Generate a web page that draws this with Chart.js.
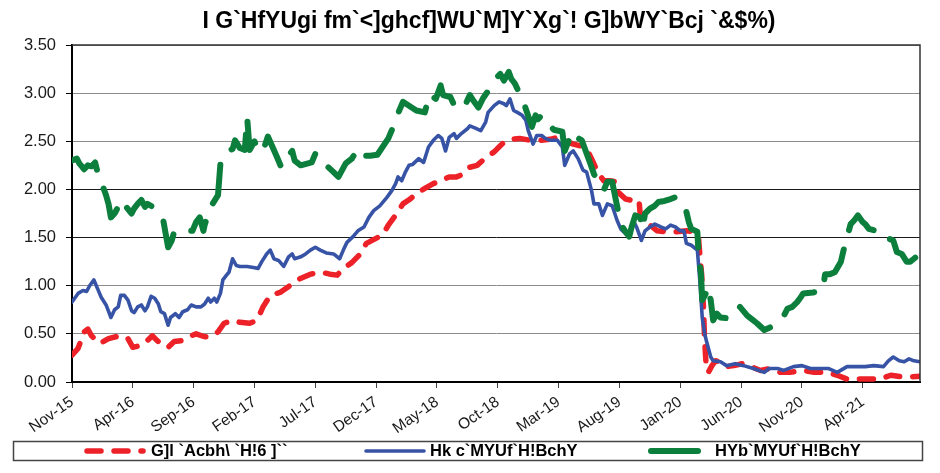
<!DOCTYPE html>
<html>
<head>
<meta charset="utf-8">
<script src="https://cdn.jsdelivr.net/npm/chart.js@4.4.1/dist/chart.umd.min.js"></script>
<style>
  html, body { margin: 0; padding: 0; background: #ffffff; }
  #wrap { width: 940px; height: 473px; position: relative; }
</style>
</head>
<body>
<div id="wrap"><canvas id="yieldChart"></canvas></div>
<script>
// Title and legend text exactly as shown in the source image
const chartTitle = "I G`HfYUgi fm`<]ghcf]WU`M]Y`Xg`! G]bWY`Bcj `&$%)";
const seriesNames = ["G]l `Acbh\\ `H!6 ]``", "Hk c`MYUf`H!BchY", "HYb`MYUf`H!BchY"];

// x axis: months since Nov-15, labelled every 5 months
const tickLabels = ["Nov-15", "Apr-16", "Sep-16", "Feb-17", "Jul-17", "Dec-17", "May-18",
                    "Oct-18", "Mar-19", "Aug-19", "Jan-20", "Jun-20", "Nov-20", "Apr-21"];
const monthsShown = 69.7;

// six month bill
const sixMonthX = [0, 0.5, 1.0, 1.3, 1.6, 2.3, 3.0, 3.6, 4.2, 4.6, 5.0, 5.7, 6.1, 6.6, 7.0, 7.5, 7.9, 8.4,
  9.1, 9.6, 10.2, 10.9, 11.4, 12.0, 12.5, 13.2, 13.8, 14.6, 15.2, 15.7, 16.3, 17.1, 17.9, 18.7, 19.6,
  20.5, 21.2, 21.8, 22.3, 23.0, 23.7, 24.2, 25.1, 25.6, 26.0, 26.7, 27.2, 27.8, 28.3, 29.0, 29.7, 30.3,
  31.0, 31.6, 32.2, 32.7, 33.3, 34.1, 34.7, 35.1, 35.5, 36.0, 36.8, 37.7, 38.5, 39.3, 39.9, 40.4, 41.2,
  41.9, 42.3, 42.7, 43.2, 43.7, 44.2, 44.7, 44.9, 45.5, 45.9, 46.6, 46.7, 47.0, 47.5, 48.1, 48.9, 49.7,
  50.5, 51.2, 51.5, 51.6, 51.75, 51.9, 52.0, 52.1, 52.3, 52.6, 52.9, 53.3, 53.8, 54.4, 55.1, 55.8, 56.6,
  57.4, 58.2, 59.0, 60.1, 61.0, 62.1, 62.9, 63.7, 64.5, 65.5, 66.4, 67.3, 68.4, 69.7];
const sixMonthY = [0.28, 0.35, 0.52, 0.55, 0.48, 0.40, 0.45, 0.47, 0.48, 0.45, 0.36, 0.38, 0.42, 0.48, 0.43, 0.38, 0.36, 0.42,
  0.43, 0.47, 0.50, 0.47, 0.47, 0.52, 0.61, 0.64, 0.62, 0.61, 0.64, 0.78, 0.90, 0.93, 1.00, 1.07, 1.12,
  1.14, 1.12, 1.11, 1.18, 1.24, 1.33, 1.44, 1.50, 1.54, 1.63, 1.75, 1.85, 1.90, 1.96, 2.01, 2.06, 2.09,
  2.13, 2.13, 2.16, 2.23, 2.25, 2.34, 2.39, 2.44, 2.49, 2.52, 2.53, 2.51, 2.51, 2.52, 2.54, 2.51, 2.47,
  2.45, 2.42, 2.32, 2.18, 2.09, 2.09, 2.08, 1.97, 1.90, 1.89, 1.89, 1.75, 1.66, 1.63, 1.57, 1.56, 1.56,
  1.57, 1.56, 1.49, 1.33, 1.12, 0.78, 0.43, 0.22, 0.10, 0.17, 0.22, 0.21, 0.16, 0.17, 0.19, 0.16, 0.12,
  0.14, 0.10, 0.10, 0.12, 0.10, 0.10, 0.07, 0.03, 0.03, 0.03, 0.03, 0.07, 0.05, 0.06];

// two year note
const twoYearX = [0, 0.5, 0.9, 1.2, 1.45, 1.8, 2.1, 2.4, 2.8, 3.2, 3.5, 3.8, 4.0, 4.3, 4.6, 4.9, 5.1, 5.4,
  5.7, 6.0, 6.2, 6.5, 6.8, 7.1, 7.3, 7.6, 7.9, 8.1, 8.5, 8.8, 9.1, 9.5, 9.8, 10.2, 10.6, 10.9, 11.2,
  11.4, 11.7, 11.9, 12.2, 12.4, 12.7, 12.9, 13.2, 13.5, 13.8, 14.4, 14.9, 15.3, 15.6, 16.0, 16.3, 16.6,
  17.0, 17.4, 17.8, 18.1, 18.3, 18.8, 19.2, 19.6, 20.0, 20.4, 20.9, 21.5, 22.0, 22.3, 22.6, 23.1, 23.5,
  24.0, 24.4, 24.8, 25.3, 25.9, 26.3, 26.6, 26.8, 27.1, 27.4, 27.7, 28.0, 28.5, 28.9, 29.3, 29.7, 30.1,
  30.4, 30.7, 31.0, 31.4, 31.6, 32.0, 32.5, 32.7, 33.1, 33.6, 34.0, 34.2, 34.7, 35.1, 35.5, 35.7, 36.0,
  36.3, 36.6, 37.0, 37.3, 37.5, 37.9, 38.2, 38.6, 38.9, 39.3, 39.9, 40.3, 40.5, 40.9, 41.2, 41.6, 42.0,
  42.3, 42.7, 42.9, 43.3, 43.6, 44.0, 44.4, 44.8, 45.1, 45.5, 45.8, 46.2, 46.4, 46.8, 47.1, 47.5, 47.9,
  48.4, 48.8, 49.2, 49.6, 50.0, 50.3, 50.5, 50.9, 51.4, 51.6, 51.8, 52.0, 52.2, 52.5, 52.7, 53.3, 53.8,
  54.5, 55.2, 56.0, 56.9, 57.3, 58.0, 58.5, 59.3, 60.0, 60.7, 61.2, 62.2, 62.9, 63.7, 64.5, 65.2, 65.9,
  66.7, 67.1, 67.5, 68.0, 68.4, 68.8, 69.2, 69.7];
const twoYearY = [0.83, 0.92, 0.95, 0.94, 1.00, 1.06, 0.97, 0.88, 0.80, 0.67, 0.75, 0.78, 0.90, 0.90, 0.85, 0.74, 0.72, 0.78,
  0.80, 0.74, 0.78, 0.89, 0.87, 0.81, 0.73, 0.71, 0.59, 0.67, 0.71, 0.67, 0.73, 0.75, 0.80, 0.78, 0.78, 0.81, 0.87,
  0.83, 0.87, 0.83, 0.92, 1.06, 1.11, 1.14, 1.28, 1.21, 1.20, 1.20, 1.19, 1.18, 1.25, 1.33, 1.37, 1.28,
  1.26, 1.20, 1.30, 1.33, 1.28, 1.30, 1.33, 1.37, 1.40, 1.37, 1.34, 1.33, 1.28, 1.37, 1.45, 1.51, 1.57,
  1.61, 1.71, 1.78, 1.83, 1.92, 1.99, 2.06, 2.13, 2.09, 2.18, 2.25, 2.26, 2.32, 2.28, 2.44, 2.51, 2.56,
  2.53, 2.40, 2.54, 2.58, 2.53, 2.58, 2.63, 2.66, 2.64, 2.61, 2.70, 2.80, 2.87, 2.91, 2.89, 2.87, 2.94,
  2.82, 2.80, 2.77, 2.72, 2.61, 2.47, 2.56, 2.56, 2.53, 2.51, 2.51, 2.44, 2.25, 2.37, 2.40, 2.32, 2.20,
  2.18, 1.99, 1.85, 1.85, 1.73, 1.85, 1.83, 1.68, 1.59, 1.54, 1.56, 1.66, 1.61, 1.47, 1.57, 1.61, 1.64,
  1.61, 1.59, 1.63, 1.61, 1.57, 1.57, 1.44, 1.42, 1.37, 1.06, 0.67, 0.50, 0.40, 0.26, 0.22, 0.21, 0.17,
  0.19, 0.17, 0.14, 0.10, 0.14, 0.14, 0.12, 0.16, 0.17, 0.14, 0.14, 0.14, 0.10, 0.16, 0.16, 0.16, 0.17,
  0.16, 0.22, 0.26, 0.22, 0.21, 0.24, 0.22, 0.21];

// ten year note
const tenYearX = [0, 0.4, 0.6, 1.0, 1.3, 1.6, 1.9, 2.1, 2.8, 3.0, 3.2, 3.5, 3.8, 4.0, 4.9, 5.1, 5.4, 5.7,
  6.0, 6.2, 6.5, 6.8, 7.5, 7.7, 7.9, 8.2, 8.4, 9.1, 9.9, 10.2, 10.5, 10.8, 10.9, 11.1, 11.3, 12.0, 12.2,
  12.5, 12.8, 13.2, 13.4, 13.8, 14.2, 14.4, 14.6, 15.0, 15.3, 15.7, 16.1, 16.8, 17.2, 17.7, 18.1, 18.3,
  18.8, 19.7, 20.0, 20.4, 20.9, 21.5, 21.9, 22.5, 23.0, 23.5, 23.9, 24.5, 25.1, 26.0, 26.4, 26.8, 27.2,
  27.7, 28.3, 29.0, 29.4, 29.9, 30.3, 30.5, 31.1, 31.5, 31.9, 32.3, 32.7, 33.0, 33.4, 33.8, 34.3, 34.8,
  35.2, 35.5, 35.9, 36.1, 36.4, 37.1, 37.4, 37.8, 38.1, 38.3, 38.6, 39.0, 39.6, 40.3, 40.5, 40.9, 41.2,
  41.5, 41.9, 42.6, 42.9, 43.3, 43.7, 44.0, 44.4, 44.8, 45.1, 45.5, 45.8, 46.0, 46.3, 46.7, 46.9, 47.1,
  47.5, 47.9, 48.2, 48.7, 49.2, 49.6, 50.0, 50.4, 50.7, 50.9, 51.4, 51.5, 51.7, 51.8, 52.1, 52.2, 52.5,
  52.7, 53.0, 53.3, 54.0, 54.5, 54.9, 55.5, 56.0, 56.3, 56.9, 57.6, 58.4, 58.8, 59.2, 59.6, 59.9, 60.1,
  60.9, 61.7, 61.9, 62.3, 62.7, 63.2, 63.4, 63.7, 64.0, 64.3, 64.6, 65.0, 65.2, 65.5, 66.1, 66.7, 67.1,
  67.5, 67.8, 68.2, 68.6, 68.9, 69.2, 69.7];
const tenYearY = [2.30, 2.32, 2.27, 2.21, 2.25, 2.24, 2.28, 2.18, 1.94, 1.85, 1.71, 1.75, 1.82, 1.89, 1.75, 1.80, 1.85, 1.89,
  1.82, 1.85, 1.83, 1.80, 1.68, 1.54, 1.40, 1.47, 1.56, 1.58, 1.57, 1.66, 1.71, 1.57, 1.63, 1.71, 1.80, 1.94, 2.27,
  2.34, 2.40, 2.42, 2.51, 2.43, 2.41, 2.74, 2.41, 2.50, 2.40, 2.40, 2.55, 2.35, 2.23, 2.34, 2.40, 2.30,
  2.25, 2.28, 2.37, 2.28, 2.25, 2.18, 2.13, 2.27, 2.32, 2.42, 2.35, 2.35, 2.36, 2.53, 2.65, 2.79, 2.91,
  2.87, 2.82, 2.80, 2.99, 2.94, 3.08, 2.98, 2.96, 2.85, 2.84, 2.87, 2.98, 2.92, 2.85, 2.95, 3.04, 3.15,
  3.20, 3.13, 3.22, 3.15, 3.10, 2.91, 2.80, 2.65, 2.77, 2.73, 2.77, 2.70, 2.62, 2.60, 2.40, 2.53, 2.60,
  2.54, 2.51, 2.27, 2.16, 2.06, 1.99, 2.08, 2.08, 1.83, 1.64, 1.56, 1.51, 1.61, 1.73, 1.71, 1.59, 1.75,
  1.80, 1.83, 1.87, 1.88, 1.90, 1.92, 1.87, 1.82, 1.66, 1.59, 1.56, 1.33, 1.12, 0.85, 0.92, 0.99, 0.85,
  0.64, 0.71, 0.67, 0.66, 0.69, 0.78, 0.69, 0.64, 0.61, 0.54, 0.58, 0.66, 0.76, 0.78, 0.83, 0.88, 0.92,
  0.93, 0.95, 1.12, 1.12, 1.14, 1.25, 1.36, 1.50, 1.64, 1.68, 1.73, 1.66, 1.64, 1.59, 1.57, 1.56, 1.49,
  1.47, 1.35, 1.33, 1.25, 1.25, 1.28, 1.33];

const toPoints = (xs, ys) => xs.map((x, i) => ({ x: x, y: ys[i] }));

const fontFamily = "'Liberation Sans', Arial, sans-serif";

// Box round the plot, title and the boxed legend under the axis
const framePlugin = {
  id: 'framePlugin',
  afterDraw(chart) {
    const ctx = chart.ctx;
    const area = chart.chartArea;
    ctx.save();

    // top and right edge of the plot area
    ctx.strokeStyle = '#333333';
    ctx.lineWidth = 1.5;
    ctx.beginPath();
    ctx.moveTo(area.left, area.top);
    ctx.lineTo(area.right, area.top);
    ctx.lineTo(area.right, area.bottom);
    ctx.stroke();

    // title
    ctx.fillStyle = '#000000';
    ctx.font = "bold 23px " + fontFamily;
    ctx.textAlign = 'center';
    ctx.textBaseline = 'middle';
    ctx.fillText(chartTitle, 489, 22);

    // legend frame
    ctx.strokeStyle = '#444444';
    ctx.lineWidth = 1.5;
    ctx.strokeRect(13.5, 441.5, 909, 19);

    const legendY = 451;
    const itemSpots = [
      { x1: 87, x2: 143, tx: 151 },
      { x1: 366, x2: 424, tx: 430 },
      { x1: 651, x2: 698, tx: 715 }
    ];
    chart.data.datasets.forEach((ds, i) => {
      const spot = itemSpots[i];
      ctx.strokeStyle = ds.borderColor;
      ctx.lineWidth = ds.borderWidth;
      ctx.lineCap = ds.borderCapStyle;
      ctx.setLineDash(i === 0 ? ds.borderDash : []);
      ctx.beginPath();
      ctx.moveTo(spot.x1, legendY);
      ctx.lineTo(spot.x2, legendY);
      ctx.stroke();
      ctx.setLineDash([]);
      ctx.fillStyle = '#000000';
      ctx.font = "bold 16.5px " + fontFamily;
      ctx.textAlign = 'left';
      ctx.fillText(ds.label, spot.tx, legendY + 0.5);
    });
    ctx.restore();
  }
};

new Chart(document.getElementById('yieldChart'), {
  type: 'line',
  data: {
    datasets: [
      {
        label: seriesNames[0],
        data: toPoints(sixMonthX, sixMonthY),
        borderColor: '#ec2228',
        borderWidth: 5.5,
        borderDash: [14, 13],
        borderCapStyle: 'round',
        borderJoinStyle: 'round',
        pointRadius: 0,
        tension: 0,
        order: 3
      },
      {
        label: seriesNames[1],
        data: toPoints(twoYearX, twoYearY),
        borderColor: '#3753a6',
        borderWidth: 3.6,
        borderCapStyle: 'round',
        borderJoinStyle: 'round',
        pointRadius: 0,
        tension: 0,
        order: 2
      },
      {
        label: seriesNames[2],
        data: toPoints(tenYearX, tenYearY),
        borderColor: '#0d7f3d',
        borderWidth: 6,
        borderDash: [40, 20],
        borderCapStyle: 'round',
        borderJoinStyle: 'round',
        pointRadius: 0,
        tension: 0,
        order: 1
      }
    ]
  },
  options: {
    responsive: true,
    maintainAspectRatio: false,
    animation: false,
    layout: { padding: { top: 45, right: 20, left: 0, bottom: 0 } },
    plugins: {
      legend: { display: false },
      title: { display: false },
      tooltip: { enabled: false }
    },
    scales: {
      x: {
        type: 'linear',
        min: 0,
        max: monthsShown,
        afterFit: (scale) => { scale.height = 91; },
        border: { color: '#000000', width: 2 },
        grid: { drawOnChartArea: false, drawTicks: true, tickLength: 6, tickColor: '#444444' },
        ticks: {
          stepSize: 5,
          includeBounds: false,
          autoSkip: false,
          maxRotation: 35,
          minRotation: 35,
          padding: 5,
          color: '#1a1a1a',
          font: { family: fontFamily, size: 15.5 },
          callback: (value) => tickLabels[Math.round(value / 5)] || ''
        }
      },
      y: {
        min: 0,
        max: 3.5,
        afterFit: (scale) => { scale.width = 72; },
        border: { color: '#000000', width: 2 },
        grid: {
          color: (c) => (c.tick && (c.tick.value === 1.5 || c.tick.value === 2)) ? '#1a1a1a' : '#8c8c8c',
          lineWidth: 1,
          tickLength: 6,
          tickColor: '#000000'
        },
        ticks: {
          stepSize: 0.5,
          padding: 10,
          color: '#1a1a1a',
          font: { family: fontFamily, size: 16.5 },
          callback: (value) => value.toFixed(2)
        }
      }
    }
  },
  plugins: [framePlugin]
});
</script>
</body>
</html>
